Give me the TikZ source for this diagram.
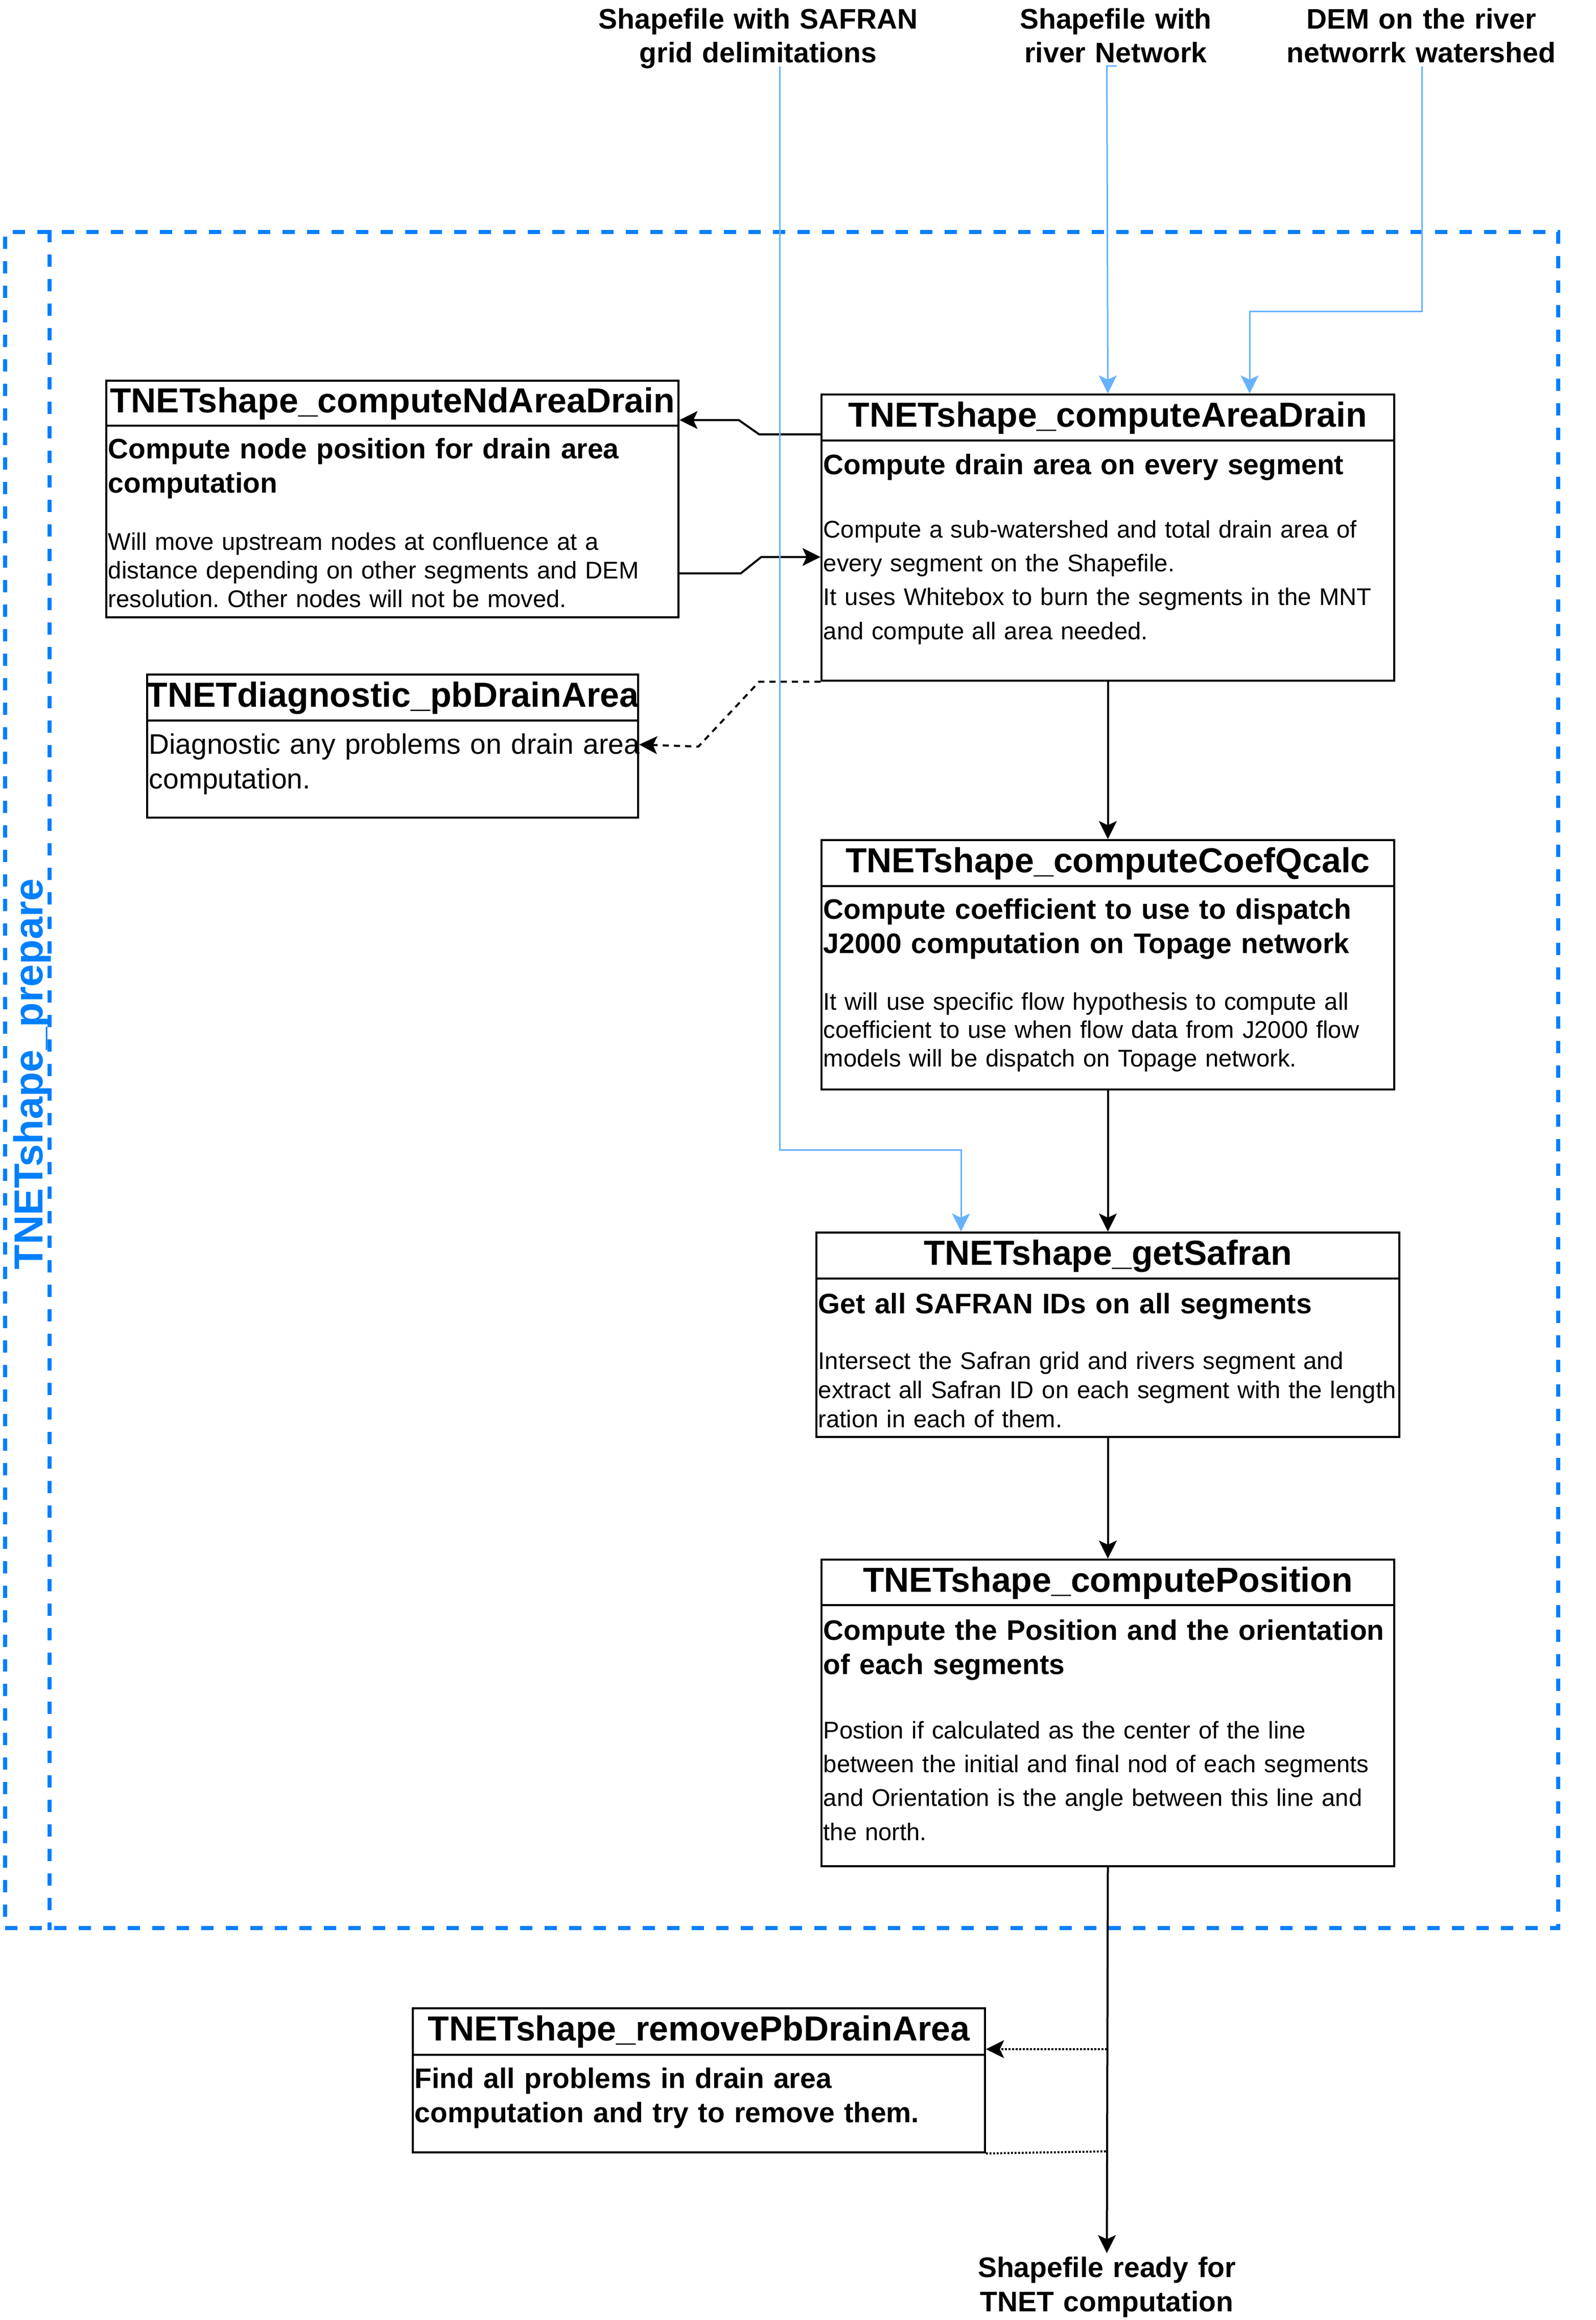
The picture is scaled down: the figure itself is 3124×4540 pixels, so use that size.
\documentclass[tikz,border=0pt]{standalone}
\usepackage{fontspec}
\setmainfont{Liberation Sans}
\usetikzlibrary{arrows.meta,calc}
\definecolor{laneblue}{HTML}{007FFF}
\definecolor{linkblue}{HTML}{66B2FF}
\frenchspacing
\begin{document}
\frenchspacing
\begin{tikzpicture}[x=0.25pt,y=-0.25pt,
  box/.style={draw=black, line width=1pt, fill=white, inner sep=0pt, anchor=north west},
  ttl/.style={inner sep=0pt, font=\fontsize{17pt}{20pt}\selectfont\bfseries},
  bodyb/.style={anchor=base west, inner sep=0pt, text width=300pt, align=left, font=\fontsize{13.8pt}{16.8pt}\selectfont\bfseries},
  bodyr/.style={anchor=base west, inner sep=0pt, text width=300pt, align=left, font=\fontsize{11.8pt}{14pt}\selectfont},
  lbl/.style={anchor=base, inner sep=0pt, text width=200pt, align=center, font=\fontsize{13.85pt}{16.75pt}\selectfont\bfseries},
  arr/.style={-{Stealth[length=8.8pt,width=8.7pt,inset=2pt]}},
  blk/.style={draw=black, line width=1pt},
  bluel/.style={draw=linkblue, line width=0.75pt, -{Stealth[length=8.8pt,width=8.7pt,inset=2pt]}},
  lane/.style={draw=laneblue, line width=2pt, dash pattern=on 6pt off 6pt},
  dashl/.style={dash pattern=on 3pt off 2.5pt},
  dotl/.style={dash pattern=on 0.9pt off 0.85pt},
]
\useasboundingbox (0,0) rectangle (3124,4540);

% swimlane container
\node[lane, inner sep=0pt, anchor=north west, minimum width=760pt, minimum height=829.75pt] (lane) at (6,450) {};
\draw[lane] ($(lane.north west)+(91,0)$) -- ($(lane.south west)+(91,0)$);
\node[rotate=90, anchor=base, inner sep=0pt, text=laneblue, font=\fontsize{19.8pt}{23pt}\selectfont\bfseries] (lanettl) at (83,2102) {TNETshape\_prepare};

% boxes
\node[box, minimum width=280pt, minimum height=115.75pt] (A) at (206,743) {};
\node[box, minimum width=280.25pt, minimum height=140pt] (B) at (1606,770) {};
\node[box, minimum width=240.25pt, minimum height=70pt] (C) at (286,1318) {};
\node[box, minimum width=280.25pt, minimum height=122pt] (D) at (1606,1642) {};
\node[box, minimum width=285.25pt, minimum height=100pt] (E) at (1596,2410) {};
\node[box, minimum width=280.25pt, minimum height=150pt] (F) at (1606,3050) {};
\node[box, minimum width=280pt, minimum height=70.5pt] (G) at (806,3928) {};

% header separators
\draw[blk] ($(A.north west)+(0,90)$) -- ($(A.north east)+(0,90)$);
\draw[blk] ($(B.north west)+(0,92)$) -- ($(B.north east)+(0,92)$);
\draw[blk] ($(C.north west)+(0,92)$) -- ($(C.north east)+(0,92)$);
\draw[blk] ($(D.north west)+(0,92)$) -- ($(D.north east)+(0,92)$);
\draw[blk] ($(E.north west)+(0,92)$) -- ($(E.north east)+(0,92)$);
\draw[blk] ($(F.north west)+(0,91)$) -- ($(F.north east)+(0,91)$);
\draw[blk] ($(G.north west)+(0,93)$) -- ($(G.north east)+(0,93)$);

% titles
\node[ttl] (At) at ($(A.north)+(0,47)$) {TNETshape\_computeNdAreaDrain};
\node[ttl] (Bt) at ($(B.north)+(0,48)$) {TNETshape\_computeAreaDrain};
\node[ttl] (Ct) at ($(C.north)+(0,48)$) {TNETdiagnostic\_pbDrainArea};
\node[ttl] (Dt) at ($(D.north)+(0,48)$) {TNETshape\_computeCoefQcalc};
\node[ttl] (Et) at ($(E.north)+(0,48)$) {TNETshape\_getSafran};
\node[ttl] (Ft) at ($(F.north)+(0,48)$) {TNETshape\_computePosition};
\node[ttl] (Gt) at ($(G.north)+(0,48)$) {TNETshape\_removePbDrainArea};

% body texts
\node[bodyb] (Ab) at (211,897) {Compute node position for drain area\\computation};
\node[bodyr] (Ar) at (211,1076) {Will move upstream nodes at confluence at a\\distance depending on other segments and DEM\\resolution. Other nodes will not be moved.};

\node[bodyb] (Bb) at (1611,928) {Compute drain area on every segment};
\node[bodyr, font=\fontsize{11.8pt}{16.6pt}\selectfont] (Br) at (1611,1052) {Compute a sub-watershed and total drain area of\\every segment on the Shapefile.\\It uses Whitebox to burn the segments in the MNT\\and compute all area needed.};

\node[bodyr, font=\fontsize{13.8pt}{17pt}\selectfont] (Cr) at (291,1475) {Diagnostic any problems on drain area\\computation.};

\node[bodyb] (Db) at (1611,1798) {Compute coefficient to use to dispatch\\J2000 computation on Topage network};
\node[bodyr, font=\fontsize{11.8pt}{13.9pt}\selectfont] (Dr) at (1611,1976) {It will use specific flow hypothesis to compute all\\coefficient to use when flow data from J2000 flow\\models will be dispatch on Topage network.};

\node[bodyb] (Eb) at (1601,2570) {Get all SAFRAN IDs on all segments};
\node[bodyr, font=\fontsize{11.8pt}{14.25pt}\selectfont] (Er) at (1601,2679) {Intersect the Safran grid and rivers segment and\\extract all Safran ID on each segment with the length\\ration in each of them.};

\node[bodyb] (Fb) at (1611,3209) {Compute the Position and the orientation\\of each segments};
\node[bodyr, font=\fontsize{11.8pt}{16.6pt}\selectfont] (Fr) at (1611,3402) {Postion if calculated as the center of the line\\between the initial and final nod of each segments\\and Orientation is the angle between this line and\\the north.};

\node[bodyb] (Gb) at (811,4086) {Find all problems in drain area\\computation and try to remove them.};

% input / output labels
\node[lbl] (lsaf) at (1484,56) {Shapefile with SAFRAN\\grid delimitations};
\node[lbl] (lriv) at (2184,56) {Shapefile with\\river Network};
\node[lbl] (ldem) at (2782,56) {DEM on the river\\networrk watershed};
\node[lbl, inner sep=1.5pt] (lout) at (2166.5,4456) {Shapefile ready for\\TNET computation};

% black connectors
\draw[blk, arr] (B.south) -- (D.north);
\draw[blk, arr] (D.south) -- (E.north);
\draw[blk, arr] (E.south) -- (F.north);
\draw[blk, arr] (F.south) -- (lout.north);
\draw[blk, arr] ($(B.north west)+(0,80)$) -- ++(-120,0) -- ++(-40,-28) -- ($(A.north east)+(0,79)$);
\draw[blk, arr] ($(A.north east)+(0,379)$) -- ++(120,0) -- ++(40,-32) -- ($(B.north west)+(0,320)$);
\draw[blk, dashl, arr] (B.south west) -- ++(-120,0) -- ++(-119,127) -- ($(C.north east)+(0,139)$);
\coordinate (gin) at (2166.5,4010);
\coordinate (gout) at (2166.5,4210);
\draw[blk, dotl, arr] (gin) -- (gin -| G.east);
\draw[blk, dotl] (G.south east) -- (gout);

% blue input connectors
\coordinate (s0) at (1526,130);
\draw[bluel] (s0) -- (1526,2250) -- (1881,2250) -- ($(E.north west)+(285,0)$);
\coordinate (r0) at (2186,129);
\draw[bluel] (r0) -- (2166.5,129) -- (B.north);
\coordinate (d0) at (2783,130);
\draw[bluel] (d0) -- (2783,609) -- (2446,609) -- ($(B.north west)+(840,0)$);
\end{tikzpicture}
\end{document}
